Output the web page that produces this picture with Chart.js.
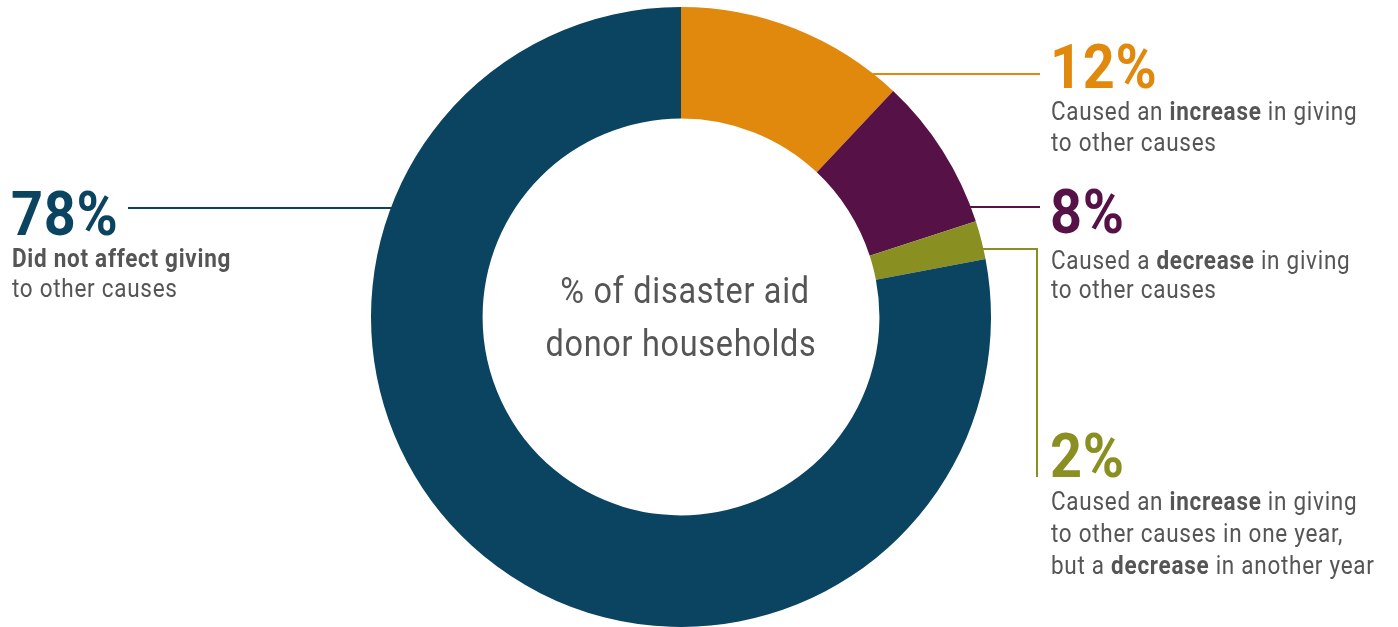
<!DOCTYPE html>
<html>
<head>
<meta charset="utf-8">
<script src="https://cdn.jsdelivr.net/npm/chart.js@4/dist/chart.umd.min.js"></script>
<style>
  html, body { margin: 0; padding: 0; background: #fff; }
  #wrap { width: 1398px; height: 627px; position: relative; }
</style>
</head>
<body>
<div id="wrap"><canvas id="c"></canvas></div>
<script>
// ── Data ──
const categories = ['Caused an increase', 'Caused a decrease', 'Increase one year, decrease another', 'Did not affect giving'];
const shares = [12, 8, 2, 78];
const colors = ['#e1890d', '#561246', '#8a8f22', '#0a4461'];

const FONT = "Roboto, 'Noto Sans', sans-serif";
const GREY = '#555555';
const SQUEEZE = 0.9;   // fake a condensed face
const TRACK = '0.8px'; // with a little tracking

// draw a line made of plain / bold runs, left aligned (or centered)
function drawRuns(ctx, x, y, runs, size, color, align) {
  ctx.save();
  ctx.textBaseline = 'alphabetic';
  ctx.textAlign = 'left';
  ctx.fillStyle = color;
  ctx.letterSpacing = TRACK;
  let w = 0;
  runs.forEach(r => { ctx.font = (r.b ? '700 ' : '400 ') + size + 'px ' + FONT; w += ctx.measureText(r.t).width; });
  ctx.translate(x, y);
  ctx.scale(SQUEEZE, 1);
  let cx = align === 'center' ? -w / 2 : 0;
  runs.forEach(r => {
    ctx.font = (r.b ? '700 ' : '400 ') + size + 'px ' + FONT;
    ctx.fillText(r.t, cx, 0);
    cx += ctx.measureText(r.t).width;
  });
  ctx.restore();
}

// x where the outer rim meets a given y, on the right or left side
function rimX(arc, y, side) {
  const dy = y - arc.y;
  const dx = Math.sqrt(Math.max(0, arc.outerRadius * arc.outerRadius - dy * dy));
  return side < 0 ? arc.x - dx + 1 : arc.x + dx - 1;
}

const calloutPlugin = {
  id: 'callouts',
  afterDraw(chart) {
    const ctx = chart.ctx;
    const arc = chart.getDatasetMeta(0).data[0];

    // centre caption
    drawRuns(ctx, arc.x + 4, 303, [{ t: '% of disaster aid' }], 36, GREY, 'center');
    drawRuns(ctx, arc.x, 356, [{ t: 'donor households' }], 36, GREY, 'center');

    ctx.save();
    ctx.lineWidth = 2;
    // 12% leader
    ctx.strokeStyle = colors[0];
    ctx.beginPath(); ctx.moveTo(rimX(arc, 74, 1), 74); ctx.lineTo(1040, 74); ctx.stroke();
    // 8% leader
    ctx.strokeStyle = colors[1];
    ctx.beginPath(); ctx.moveTo(rimX(arc, 207, 1), 207); ctx.lineTo(1040, 207); ctx.stroke();
    // 2% bracket
    ctx.strokeStyle = colors[2];
    ctx.beginPath(); ctx.moveTo(rimX(arc, 249, 1), 249); ctx.lineTo(1037, 249); ctx.lineTo(1037, 477); ctx.stroke();
    // 78% leader
    ctx.strokeStyle = colors[3];
    ctx.beginPath(); ctx.moveTo(128, 208); ctx.lineTo(rimX(arc, 208, -1), 208); ctx.stroke();
    ctx.restore();

    const big = 62;
    const body = 25;
    // 12%
    drawRuns(ctx, 1050, 88, [{ t: shares[0] + '%', b: true }], big, colors[0]);
    drawRuns(ctx, 1051, 120, [{ t: 'Caused an ' }, { t: 'increase', b: true }, { t: ' in giving' }], body, GREY);
    drawRuns(ctx, 1051, 151, [{ t: 'to other causes' }], body, GREY);
    // 8%
    drawRuns(ctx, 1050, 233, [{ t: shares[1] + '%', b: true }], big, colors[1]);
    drawRuns(ctx, 1051, 269, [{ t: 'Caused a ' }, { t: 'decrease', b: true }, { t: ' in giving' }], body, GREY);
    drawRuns(ctx, 1051, 298, [{ t: 'to other causes' }], body, GREY);
    // 2%
    drawRuns(ctx, 1050, 477, [{ t: shares[2] + '%', b: true }], big, colors[2]);
    drawRuns(ctx, 1051, 510, [{ t: 'Caused an ' }, { t: 'increase', b: true }, { t: ' in giving' }], body, GREY);
    drawRuns(ctx, 1051, 542, [{ t: 'to other causes in one year,' }], body, GREY);
    drawRuns(ctx, 1051, 574, [{ t: 'but a ' }, { t: 'decrease', b: true }, { t: ' in another year' }], body, GREY);
    // 78%
    drawRuns(ctx, 11, 235, [{ t: shares[3] + '%', b: true }], big, colors[3]);
    drawRuns(ctx, 12, 267, [{ t: 'Did not affect giving', b: true }], body, GREY);
    drawRuns(ctx, 12, 297, [{ t: 'to other causes' }], body, GREY);
  }
};

new Chart(document.getElementById('c'), {
  type: 'doughnut',
  data: {
    labels: categories,
    datasets: [{ data: shares, backgroundColor: colors, borderWidth: 0, hoverOffset: 0 }]
  },
  options: {
    responsive: true,
    maintainAspectRatio: false,
    animation: false,
    cutout: '64%',
    layout: { padding: { left: 371, right: 407, top: 7, bottom: 0 } },
    plugins: { legend: { display: false }, tooltip: { enabled: false } }
  },
  plugins: [calloutPlugin]
});
</script>
</body>
</html>
